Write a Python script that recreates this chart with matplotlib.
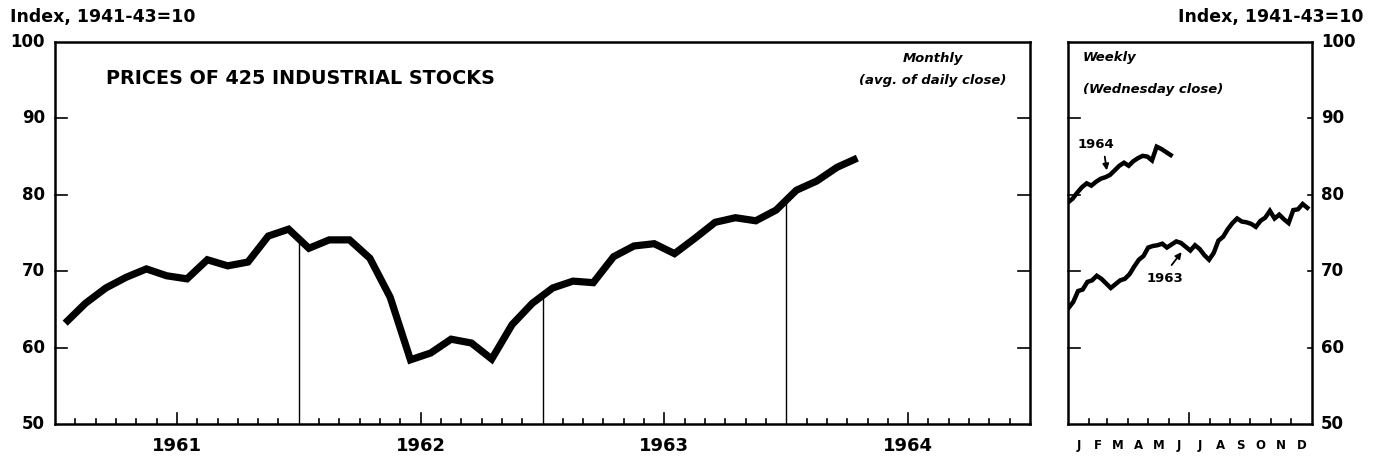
import numpy as np
import matplotlib
matplotlib.use('Agg')
import matplotlib.pyplot as plt

plt.rcParams['font.family'] = ['DejaVu Sans']
plt.rcParams['font.weight'] = 'bold'

# monthly averages, Jan 1961 .. Apr 1964
monthly = [63.2, 65.8, 67.8, 69.2, 70.3, 69.4, 69.0, 71.5, 70.7, 71.2, 74.6, 75.5,
           73.0, 74.1, 74.1, 71.7, 66.6, 58.4, 59.3, 61.1, 60.6, 58.5, 63.0, 65.8,
           67.8, 68.7, 68.5, 71.9, 73.3, 73.6, 72.3, 74.3, 76.4, 77.0, 76.6, 78.0,
           80.6, 81.8, 83.6, 84.8]
years = ['1961', '1962', '1963', '1964']

# weekly (Wednesday close)
weekly_1963 = [65.2, 66.0, 67.4, 67.6, 68.6, 68.8, 69.4, 69.0, 68.4, 67.8, 68.3, 68.8,
               69.0, 69.6, 70.6, 71.5, 72.0, 73.1, 73.3, 73.4, 73.6, 73.1, 73.5, 73.9,
               73.7, 73.2, 72.7, 73.4, 72.9, 72.1, 71.5, 72.4, 74.0, 74.5, 75.5, 76.3,
               76.9, 76.5, 76.4, 76.2, 75.8, 76.6, 77.0, 77.9, 76.9, 77.4, 76.8, 76.3,
               78.0, 78.1, 78.8, 78.3]
weekly_1964 = [79.0, 79.5, 80.3, 81.0, 81.5, 81.2, 81.7, 82.1, 82.3, 82.6, 83.2, 83.8,
               84.2, 83.8, 84.4, 84.8, 85.1, 85.0, 84.5, 86.3, 86.0, 85.6, 85.2]
month_letters = ['J', 'F', 'M', 'A', 'M', 'J', 'J', 'A', 'S', 'O', 'N', 'D']

fig = plt.figure(figsize=(13.76, 4.59), dpi=100)
ax = fig.add_axes([55/1376, 35/459, 975/1376, 382/459])
ax2 = fig.add_axes([1068/1376, 35/459, 244/1376, 382/459])

# ---- monthly panel
xm = np.arange(len(monthly)) + 0.5
ax.plot(xm, monthly, color='black', lw=5.2, solid_joinstyle='miter', solid_capstyle='butt')
for b in [12, 24, 36]:
    ax.plot([b, b], [50, np.interp(b, xm, monthly)], color='black', lw=1)
ax.set_xlim(0, 48)
ax.set_ylim(50, 100)

# ---- weekly panel (x in day of year)
d63 = 1 + 7 * np.arange(len(weekly_1963))
d64 = 7 * np.arange(len(weekly_1964))
ax2.plot(d63, weekly_1963, color='black', lw=3.2, solid_joinstyle='miter')
ax2.plot(d64 * 365 / 366, weekly_1964, color='black', lw=3.2, solid_joinstyle='miter')
ax2.set_xlim(0, 365)
ax2.set_ylim(50, 100)

for a in (ax, ax2):
    for s in a.spines.values():
        s.set_linewidth(1.8)
    a.set_xticks([])
    a.set_yticks([])
    # y ticks drawn inward on both sides
    for v in [60, 70, 80, 90]:
        a.plot([0, 0.012 if a is ax else 0.05], [v, v], transform=a.get_yaxis_transform(),
               color='black', lw=1.2, clip_on=False)
        a.plot([1 - (0.012 if a is ax else 0.015), 1], [v, v], transform=a.get_yaxis_transform(),
               color='black', lw=1.2, clip_on=False)

# month ticks, monthly panel
for m in range(1, 48):
    if m % 12 == 0:
        continue
    h = 0.028 if m % 12 == 6 else 0.014
    ax.plot([m, m], [0, h], transform=ax.get_xaxis_transform(), color='black', lw=1.2, clip_on=False)
for i, y in enumerate(years):
    ax.text(12 * i + 6, -0.035, y, transform=ax.get_xaxis_transform(), ha='center', va='top',
            fontsize=13)

# month ticks, weekly panel
mstarts = np.cumsum([0, 31, 28, 31, 30, 31, 30, 31, 31, 30, 31, 30, 31])
for k, m in enumerate(mstarts[1:-1]):
    h = 0.028 if k == 5 else 0.014
    ax2.plot([m, m], [0, h], transform=ax2.get_xaxis_transform(), color='black', lw=1.2, clip_on=False)
for k, lab in enumerate(month_letters):
    ax2.text((mstarts[k] + mstarts[k + 1]) / 2, -0.04, lab, transform=ax2.get_xaxis_transform(),
             ha='center', va='top', fontsize=8.5)

# y labels
for v in [50, 60, 70, 80, 90, 100]:
    yf = ax.transData.transform((0, v))[1] / 459
    fig.text(45/1376, yf, str(v), ha='right', va='center', fontsize=12)
    fig.text(1321/1376, yf, str(v), ha='left', va='center', fontsize=12)

fig.text(10/1376, 1 - 17/459, 'Index, 1941-43=10', ha='left', va='center', fontsize=12.5)
fig.text(1363/1376, 1 - 17/459, 'Index, 1941-43=10', ha='right', va='center', fontsize=12.5)

ax.text(0.052, 0.905, 'PRICES OF 425 INDUSTRIAL STOCKS', transform=ax.transAxes, ha='left', va='center',
        fontsize=13.8)
ax.text(0.90, 0.958, 'Monthly', transform=ax.transAxes, ha='center', va='center',
        fontsize=9.5, style='italic')
ax.text(0.90, 0.9, '(avg. of daily close)', transform=ax.transAxes, ha='center', va='center',
        fontsize=9.5, style='italic')
ax2.text(0.06, 0.96, 'Weekly', transform=ax2.transAxes, ha='left', va='center',
         fontsize=9.5, style='italic')
ax2.text(0.06, 0.875, '(Wednesday close)', transform=ax2.transAxes, ha='left', va='center',
         fontsize=9.5, style='italic')

# year labels with arrows
arrow = dict(arrowstyle='-|>', color='black', lw=1.3, mutation_scale=9, shrinkA=0, shrinkB=0)
ax2.text(42, 86.6, '1964', ha='center', va='center', fontsize=9.5)
ax2.annotate('', xy=(58, 83.2), xytext=(55, 85.0), arrowprops=arrow)
ax2.text(145, 69.0, '1963', ha='center', va='center', fontsize=9.5)
ax2.annotate('', xy=(170, 72.5), xytext=(155, 70.8), arrowprops=arrow)

fig.savefig('out.png', dpi=100)
